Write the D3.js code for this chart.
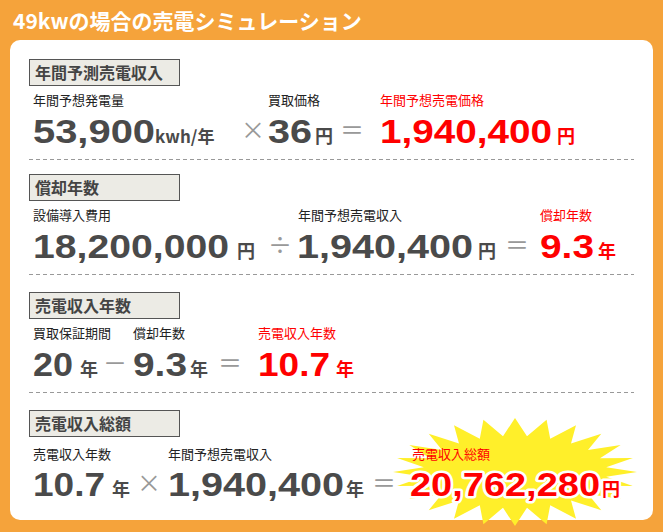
<!DOCTYPE html>
<html><head><meta charset="utf-8">
<script src="https://cdn.jsdelivr.net/npm/d3@7"></script>
<style>
body{margin:0;background:#F5A33B}
text{font-family:"Liberation Sans","Noto Sans CJK JP",sans-serif}
.jp{font-family:"Noto Sans CJK JP",sans-serif}
</style></head><body>
<svg id="c" width="663" height="532"></svg>
<script>
const TITLE = '49kwの場合の売電シミュレーション'
const SECTIONS = ['年間予測売電収入', '償却年数', '売電収入年数', '売電収入総額']
const LABELS = [
  ['年間予想発電量', '買取価格', '年間予想売電価格'],
  ['設備導入費用', '年間予想売電収入', '償却年数'],
  ['買取保証期間', '償却年数', '売電収入年数'],
  ['売電収入年数', '年間予想売電収入', '売電収入総額']
]
const VALUES = [
  ['53,900', 'kwh/年', '×', '36', '円', '＝', '1,940,400', '円'],
  ['18,200,000', '円', '÷', '1,940,400', '円', '＝', '9.3', '年'],
  ['20', '年', '－', '9.3', '年', '＝', '10.7', '年'],
  ['10.7', '年', '×', '1,940,400', '年', '＝', '20,762,280', '円']
]

// layout
const SEC_Y = [59, 174, 292, 410]
const LABEL_X = [[33, 268, 380], [33, 298, 540], [33, 133, 258], [33, 168, 412]]
const VAL_X = [
  [33, 155, 241, 268, 315, 340, 380, 557],
  [33, 237, 268, 297, 478, 505, 540, 598],
  [33, 80, 103, 133, 190, 218, 258, 336],
  [33, 112, 137, 168, 346, 372, 410, 602]
]
const NUM_W = [[122, 0, 0, 44, 0, 0, 172, 0], [196, 0, 0, 176, 0, 0, 54, 0],
  [40, 0, 0, 54, 0, 0, 72, 0], [72, 0, 0, 176, 0, 0, 190, 0]]

const $svg = d3.select('#c')
$svg.append('rect').attr('width', 663).attr('height', 532).attr('fill', '#F5A33B')
$svg.append('text').attr('class', 'jp').attr('x', 13).attr('y', 29)
  .attr('fill', '#fff').attr('font-size', 21).attr('font-weight', 'bold').text(TITLE)
$svg.append('rect').attr('x', 10).attr('y', 40).attr('width', 643).attr('height', 480)
  .attr('rx', 10).attr('fill', '#fff')

// starburst
const cx = 515, cy = 472
const pts = d3.range(48).map(i => {
  const a = i / 48 * Math.PI * 2
  const rx = i % 2 ? 92 : 122, ry = i % 2 ? 36 : 54
  return [cx + rx * Math.cos(a), cy + ry * Math.sin(a)]
})
$svg.append('path').attr('d', d3.line()(pts) + 'Z').attr('fill', '#FFEF2A')

SEC_Y.forEach((y0, s) => {
  const g = $svg.append('g')
  g.append('rect').attr('x', 29.5).attr('y', y0 + 0.5).attr('width', 150).attr('height', 26)
    .attr('fill', '#ECEBE5').attr('stroke', '#555')
  g.append('text').attr('class', 'jp').attr('x', 35).attr('y', y0 + 20)
    .attr('font-size', 16).attr('font-weight', 'bold').attr('fill', '#444').text(SECTIONS[s])
  if (s < 3) g.append('line').attr('x1', 29).attr('x2', 634)
    .attr('y1', y0 + 100.5).attr('y2', y0 + 100.5)
    .attr('stroke', '#999').attr('stroke-dasharray', '4,3')

  LABELS[s].forEach((t, i) => {
    g.append('text').attr('class', 'jp').attr('x', LABEL_X[s][i]).attr('y', y0 + (s === 3 ? 49 : 46))
      .attr('font-size', 13).attr('fill', i === 2 ? '#f00' : '#222').text(t)
  })
  const by = y0 + (s === 3 ? 86 : 84)
  VALUES[s].forEach((t, i) => {
    const red = i >= 6
    const isNum = NUM_W[s][i] > 0
    const isOp = i === 2 || i === 5
    const el = g.append('text').attr('x', VAL_X[s][i]).attr('y', isOp ? by - 4 : by)
      .attr('font-weight', 'bold').text(t)
      .attr('fill', red ? '#f00' : (isOp ? '#999' : '#4a4a4a'))
    if (isNum) {
      el.attr('font-size', 33).attr('textLength', NUM_W[s][i]).attr('lengthAdjust', 'spacingAndGlyphs')
    } else if (isOp) {
      el.attr('class', 'jp').attr('font-size', 24).attr('font-weight', 'normal')
    } else {
      el.attr('class', 'jp').attr('font-size', t.length > 1 ? 17 : 18)
    }
    if (s === 3 && red) el.attr('stroke', '#fff').attr('stroke-width', 5)
      .attr('paint-order', 'stroke').attr('stroke-linejoin', 'round')
  })
})
</script></body></html>
